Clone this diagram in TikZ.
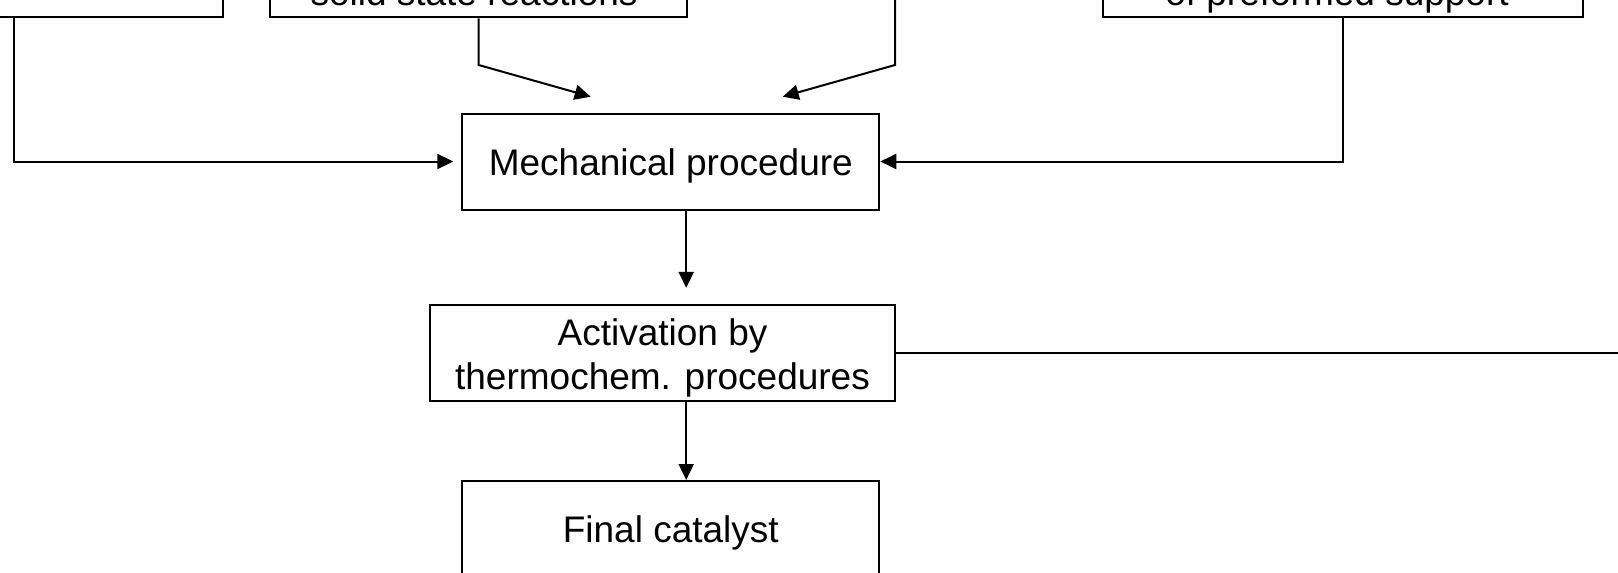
\documentclass[tikz,border=0pt]{standalone}
\usepackage{fontspec}
\setmainfont{Liberation Sans}
\usetikzlibrary{arrows.meta}

\begin{document}
\begin{tikzpicture}[x=0.5pt,y=0.5pt,
    box/.style={draw, line width=1pt, inner sep=0pt, align=center,
        minimum width=208.5pt, minimum height=48pt, text height=17.5pt,
        font=\fontsize{18.5}{22}\selectfont},
    lbl/.style={inner sep=0pt, anchor=base, font=\fontsize{18.5}{22}\selectfont},
    conn/.style={line width=1pt},
    arr/.style={conn, -{Triangle[length=8pt,width=7.5pt]}}]
        \useasboundingbox (0,0) rectangle (1618,-573);
        \clip (0,0) rectangle (1618,-573);
        % top row, cut by the frame
        \node [box] (srcA) at (14.4,30.7) {};
        \node [box] (srcB) at (478.7,30.7) {};
        \node [box, minimum width=240pt] (srcD) at (1342.7,30.7) {};
        \node [lbl] (txtB) at (474,-5) {solid state reactions};
        \node [lbl] (txtD) at (1337,-5) {of preformed support};
        \coordinate (srcC) at (895,2);
        % middle column
        \node [box] (mech) at (670.8,-161.5) {Mechanical procedure};
        \node [box, minimum width=232.2pt, text height=39.5pt] (act) at (662.5,-353.4) {Activation by\\thermochem. procedures};
        \node [box] (fin) at (670.8,-529) {Final catalyst};
        % connectors
        \coordinate (kB) at (478.7,-65);
        \coordinate (inB) at (590.7,-96.7);
        \coordinate (kC) at (895,-65);
        \coordinate (inC) at (782.7,-96.7);
        \coordinate (outR) at (1640,-353.4);
        \draw [arr, shorten >=4pt] (srcA.south) |- (mech.west);
        \draw [arr] (srcB.south) -- (kB) -- (inB);
        \draw [arr] (srcC) -- (kC) -- (inC);
        \draw [arr] (srcD.south) |- (mech.east);
        \draw [arr, shorten >=8.25pt] ([xshift=7.7pt]mech.south) -- ([xshift=7.7pt]mech.south |- act.north);
        \draw [arr] ([xshift=7.7pt]fin.north |- act.south) -- ([xshift=7.7pt]fin.north);
        \draw [conn] (act.east) -- (outR);
\end{tikzpicture}
\end{document}
